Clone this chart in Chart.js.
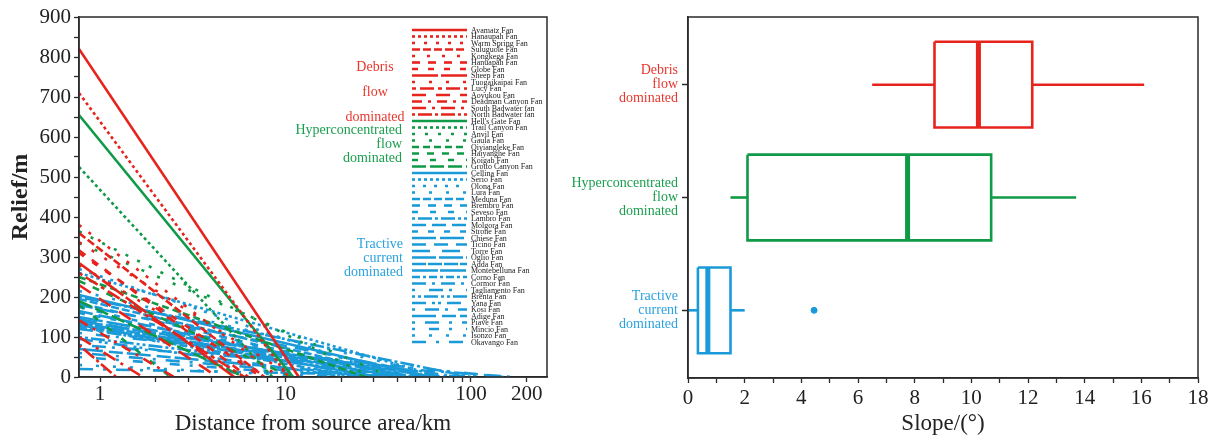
<!DOCTYPE html>
<html>
<head>
<meta charset="utf-8">
<script src="https://cdn.jsdelivr.net/npm/chart.js@4.4.1/dist/chart.umd.min.js"></script>
<style>
  html, body { margin: 0; padding: 0; background: #fff; }
  #wrap { position: relative; width: 1217px; height: 438px; overflow: hidden; }
  #profile { position: absolute; left: 0; top: 0; }
  #slope { position: absolute; left: 555px; top: 0; }
</style>
</head>
<body>
<div id="wrap">
  <canvas id="profile" width="575" height="438"></canvas>
  <canvas id="slope" width="662" height="438"></canvas>
</div>
<script>
// ---- data: fan profiles (relief at the left edge of the plot, m; distance where relief reaches 0, km)
const debrisFans = ['Avamatz Fan', 'Hanaupah Fan', 'Warm Spring Fan', 'Suluguole Fan', 'Kongkega Fan',
  'Hanuapah Fan', 'Globe Fan', 'Sheep Fan', 'Tuogaikaipai Fan', 'Lucy Fan', 'Aoyukou Fan',
  'Deadman Canyon Fan', 'South Badwater fan', 'North Badwater fan'];
const debrisRelief = [820, 710, 380, 360, 337, 317, 310, 285, 280, 260, 230, 142, 100, 80];
const debrisDistance = [11.8, 10.4, 9.2, 7.7, 11, 6.3, 7.4, 5.3, 8, 6, 4.3, 2.5, 1.7, 1.22];

const hyperFans = ["Hell's Gate Fan", 'Trail Canyon Fan', 'Anvil Fan', 'Gaula Fan', 'Qiyiangleke Fan',
  'Haiyanghe Fan', 'Koigab Fan', 'Grotto Canyon Fan'];
const hyperRelief = [655, 525, 364, 335, 250, 240, 180, 190];
const hyperDistance = [11, 8.5, 29, 37, 27, 10.8, 2.4, 6];

const tractiveFans = ['Cellina Fan', 'Serio Fan', 'Olona Fan', 'Lura Fan', 'Meduna Fan', 'Brembro Fan',
  'Seveso Fan', 'Lambro Fan', 'Molgora Fan', 'Strone Fan', 'Chiese Fan', 'Ticino Fan', 'Torre Fan',
  'Oglio Fan', 'Adda Fan', 'Montebelluna Fan', 'Corno Fan', 'Cormor Fan', 'Tagliamento Fan',
  'Brenta Fan', 'Yana Fan', 'Kosi Fan', 'Adige Fan', 'Piave Fan', 'Mincio Fan', 'Isonzo Fan', 'Okavango Fan'];
const tractiveRelief = [205, 260, 270, 215, 195, 185, 175, 200, 165, 160, 150, 180, 145, 140, 135, 130,
  125, 120, 110, 100, 95, 80, 70, 60, 50, 30, 20];
const tractiveDistance = [60, 69, 40, 75, 45, 38, 30, 100, 35, 55, 50, 70, 28, 65, 42, 32, 25, 90, 150,
  48, 22, 170, 36, 28, 20, 18, 160];

const xTickValues = [1, 2, 3, 4, 5, 6, 7, 8, 9, 10, 20, 30, 40, 50, 60, 70, 80, 90, 100, 200];
const xTickLabels = [1, 10, 100, 200];

// ---- data: slope box plots (degrees)
const slopeClasses = [['Debris', 'flow', 'dominated'], ['Hyperconcentrated', 'flow', 'dominated'],
  ['Tractive', 'current', 'dominated']];
const slopeMin = [6.5, 1.5, 0];
const slopeQ1 = [8.7, 2.1, 0.35];
const slopeMedian = [10.25, 7.75, 0.7];
const slopeQ3 = [12.15, 10.7, 1.5];
const slopeMax = [16.1, 13.7, 2.0];
const slopeOutliers = [[], [], [4.45]];

// ---- styles
const RED = '#e6231d', GREEN = '#0f9a47', BLUE = '#1a9ad8';
const TEXT_RED = '#e8372f', TEXT_GREEN = '#1a9e4e', TEXT_BLUE = '#2aa2df';
const AXIS = '#2a2a2a';
const SERIF = '"Liberation Serif", "Times New Roman", serif';
const X_START = 0.77;

const debrisDash = [[], [3, 3], [3, 9], [8, 3], [3, 12], [8, 8], [6, 10], [26, 3], [3, 14],
  [4, 4, 14, 4], [14, 10], [10, 6, 3, 6], [14, 6, 3, 6], [3, 3, 14, 3]];
const hyperDash = [[], [3, 3], [3, 10], [3, 14], [7, 4], [7, 8], [6, 12], [14, 4]];
const tractiveDash = [[], [3, 3], [3, 8], [3, 14], [8, 3], [8, 8], [6, 12], [3, 3, 14, 3], [14, 6],
  [6, 10], [24, 4], [14, 8], [18, 12], [24, 3], [14, 2], [26, 2], [8, 3, 3, 3], [14, 6, 3, 6],
  [3, 14, 14, 6], [3, 3, 3, 3, 14, 3], [14, 6, 3, 3, 3, 6], [3, 10, 14, 6], [24, 6, 14, 4],
  [3, 10, 14, 10], [3, 14, 10, 10], [3, 14], [14, 10, 3, 10]];

function fanSets(names, relief, dist, color, dashes) {
  return names.map((n, i) => ({
    label: n,
    data: [{ x: X_START, y: relief[i] }, { x: dist[i], y: 0 }],
    borderColor: color,
    borderDash: dashes[i],
    borderWidth: 2.6,
    pointRadius: 0,
    fill: false
  }));
}

const profileSets = [].concat(
  fanSets(debrisFans, debrisRelief, debrisDistance, RED, debrisDash),
  fanSets(hyperFans, hyperRelief, hyperDistance, GREEN, hyperDash),
  fanSets(tractiveFans, tractiveRelief, tractiveDistance, BLUE, tractiveDash)
);

// frame round the plot area
const frame = {
  id: 'frame',
  afterDraw(chart) {
    const a = chart.chartArea, ctx = chart.ctx;
    ctx.save();
    ctx.strokeStyle = AXIS;
    ctx.lineWidth = 1.5;
    ctx.strokeRect(a.left, a.top, a.right - a.left, a.bottom - a.top);
    ctx.restore();
  }
};

// legend inside the plot, one row per fan
const fanLegend = {
  id: 'fanLegend',
  afterDatasetsDraw(chart) {
    const a = chart.chartArea, ctx = chart.ctx;
    const x0 = a.left + 333;
    ctx.save();
    chart.data.datasets.forEach((ds, i) => {
      const y = a.top + 13 + i * 6.5;
      ctx.strokeStyle = ds.borderColor;
      ctx.lineWidth = 2.6;
      ctx.setLineDash(ds.borderDash);
      ctx.beginPath();
      ctx.moveTo(x0, y);
      ctx.lineTo(x0 + 55, y);
      ctx.stroke();
      ctx.setLineDash([]);
      ctx.fillStyle = '#222';
      ctx.font = '8px ' + SERIF;
      ctx.textBaseline = 'middle';
      ctx.fillText(ds.label, x0 + 59, y + 0.5);
    });
    ctx.restore();
  }
};

// group names written in the plot
const groupNotes = {
  id: 'groupNotes',
  afterDatasetsDraw(chart) {
    const a = chart.chartArea, ctx = chart.ctx;
    ctx.save();
    ctx.font = '14px ' + SERIF;
    ctx.textBaseline = 'middle';
    ctx.fillStyle = TEXT_RED;
    ctx.textAlign = 'center';
    ['Debris', 'flow', 'dominated'].forEach((t, i) => ctx.fillText(t, a.left + 296, a.top + 50 + i * 25));
    ctx.textAlign = 'right';
    ctx.fillStyle = TEXT_GREEN;
    ['Hyperconcentrated', 'flow', 'dominated'].forEach((t, i) => ctx.fillText(t, a.left + 323, a.top + 113 + i * 14));
    ctx.fillStyle = TEXT_BLUE;
    ['Tractive', 'current', 'dominated'].forEach((t, i) => ctx.fillText(t, a.left + 324, a.top + 227 + i * 14));
    ctx.restore();
  }
};

const tickGrid = { drawOnChartArea: false, drawTicks: true, tickLength: 5, tickColor: AXIS, tickWidth: 1.3 };

new Chart(document.getElementById('profile').getContext('2d'), {
  type: 'line',
  data: { datasets: profileSets },
  options: {
    responsive: false,
    animation: false,
    layout: { padding: { left: 0, top: 17, right: 28, bottom: 0 } },
    plugins: { legend: { display: false }, tooltip: { enabled: false } },
    scales: {
      x: {
        type: 'logarithmic',
        min: X_START,
        max: 257,
        afterBuildTicks: (s) => { s.ticks = xTickValues.map(v => ({ value: v })); },
        afterFit: (s) => { s.height = 61; s.paddingLeft = 0; s.paddingRight = 0; },
        ticks: {
          autoSkip: false, maxRotation: 0, padding: 0, color: '#222',
          font: { family: SERIF, size: 21 },
          callback: (v) => xTickLabels.includes(v) ? String(v) : ''
        },
        grid: tickGrid,
        border: { display: true, color: AXIS, width: 1.5 },
        title: { display: true, text: 'Distance from source area/km', color: '#222',
          font: { family: SERIF, size: 23 }, padding: { top: 0, bottom: 0 } }
      },
      y: {
        min: 0, max: 900,
        afterFit: (s) => { s.width = 79; s.paddingTop = 0; s.paddingBottom = 0; },
        ticks: {
          stepSize: 50, autoSkip: false, padding: 3, color: '#222',
          font: { family: SERIF, size: 21 },
          callback: (v) => v % 100 === 0 ? String(v) : ''
        },
        grid: tickGrid,
        border: { display: true, color: AXIS, width: 1.5 },
        title: { display: true, text: 'Relief/m', color: '#222',
          font: { family: SERIF, size: 24, weight: 'bold' }, padding: { top: 6, bottom: 0 } }
      }
    }
  },
  plugins: [frame, fanLegend, groupNotes]
});

// ---- box plots built from the quartile arrays
const classColors = [RED, GREEN, BLUE];
const classTextColors = [TEXT_RED, TEXT_GREEN, TEXT_BLUE];
const HALF = 0.38;
const slopeSets = [];
slopeClasses.forEach((c, i) => {
  const yc = i + 0.6;
  const col = classColors[i];
  const line = (pts, w) => ({ data: pts, showLine: true, borderColor: col, borderWidth: w, pointRadius: 0, fill: false });
  slopeSets.push(line([
    { x: slopeQ1[i], y: yc - HALF }, { x: slopeQ3[i], y: yc - HALF },
    { x: slopeQ3[i], y: yc + HALF }, { x: slopeQ1[i], y: yc + HALF },
    { x: slopeQ1[i], y: yc - HALF }], 2.6));
  slopeSets.push(line([{ x: slopeMedian[i], y: yc - HALF }, { x: slopeMedian[i], y: yc + HALF }], 5));
  slopeSets.push(line([{ x: slopeMin[i], y: yc }, { x: slopeQ1[i], y: yc }], 2.6));
  slopeSets.push(line([{ x: slopeQ3[i], y: yc }, { x: slopeMax[i], y: yc }], 2.6));
  if (slopeOutliers[i].length) {
    slopeSets.push({ data: slopeOutliers[i].map(v => ({ x: v, y: yc })), showLine: false,
      pointRadius: 3, backgroundColor: col, borderColor: col });
  }
});

new Chart(document.getElementById('slope').getContext('2d'), {
  type: 'scatter',
  data: { datasets: slopeSets },
  options: {
    responsive: false,
    animation: false,
    layout: { padding: { left: 0, top: 17, right: 19, bottom: 0 } },
    plugins: { legend: { display: false }, tooltip: { enabled: false } },
    scales: {
      x: {
        min: 0, max: 18,
        afterFit: (s) => { s.height = 60; s.paddingLeft = 0; s.paddingRight = 0; },
        ticks: {
          stepSize: 1, autoSkip: false, maxRotation: 0, padding: 3, color: '#222',
          font: { family: SERIF, size: 21 },
          callback: (v) => v % 2 === 0 ? String(v) : ''
        },
        grid: tickGrid,
        border: { display: true, color: AXIS, width: 1.5 },
        title: { display: true, text: 'Slope/(°)', color: '#222',
          font: { family: SERIF, size: 23 }, padding: { top: 0, bottom: 0 } }
      },
      y: {
        min: 0, max: 3.2, reverse: true,
        afterBuildTicks: (s) => { s.ticks = slopeClasses.map((c, i) => ({ value: i + 0.6 })); },
        afterFit: (s) => { s.width = 133; s.paddingTop = 0; s.paddingBottom = 0; },
        ticks: {
          autoSkip: false, padding: 4,
          color: (ctx) => classTextColors[ctx.index],
          font: { family: SERIF, size: 14, lineHeight: 1.0 },
          callback: (v, i) => slopeClasses[i]
        },
        grid: { drawOnChartArea: false, drawTicks: true, tickLength: 6, tickColor: AXIS, tickWidth: 1.5 },
        border: { display: true, color: AXIS, width: 1.5 }
      }
    }
  },
  plugins: [frame]
});
</script>
</body>
</html>
